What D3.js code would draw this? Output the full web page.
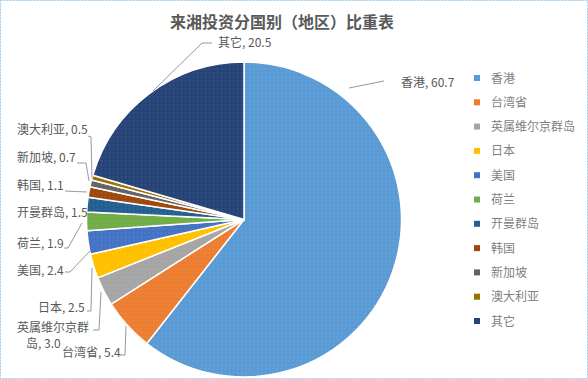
<!DOCTYPE html>
<html>
<head>
<meta charset="utf-8">
<script src="https://cdn.jsdelivr.net/npm/d3@7"></script>
<style>
  html, body { margin: 0; padding: 0; background: #fff; }
  text { font-family: "Noto Sans CJK SC", "Noto Sans", sans-serif; }
</style>
</head>
<body>
<div id="chart"></div>
<script>
const categories = ['香港', '台湾省', '英属维尔京群岛', '日本', '美国', '荷兰', '开曼群岛', '韩国', '新加坡', '澳大利亚', '其它'];
const values = [60.7, 5.4, 3.0, 2.5, 2.4, 1.9, 1.5, 1.1, 0.7, 0.5, 20.5];
const colors = ['#5b9bd5', '#ed7d31', '#a5a5a5', '#ffc000', '#4472c4', '#70ad47', '#255e91', '#9e480e', '#636363', '#997300', '#264478'];
const title = '来湘投资分国别（地区）比重表';

// where each data label sits and how its leader line runs (layout only)
const labelLayout = [
  { lines: ['香港, 60.7'], xs: [401], y: 87, leader: [[349, 88], [384, 81]] },
  { lines: ['台湾省, 5.4'], xs: [62], y: 357, leader: [[126, 326], [125, 355], [120, 355]] },
  { lines: ['英属维尔京群', '岛, 3.0'], xs: [17, 26], y: 332, leader: [[101, 292], [99, 330], [93, 330]] },
  { lines: ['日本, 2.5'], xs: [38], y: 312, leader: [[92, 268], [91, 311], [87, 311]] },
  { lines: ['美国, 2.4'], xs: [17], y: 275, leader: [[91, 250], [70, 272], [65, 272]] },
  { lines: ['荷兰, 1.9'], xs: [17], y: 248, leader: [[82, 223], [68, 248], [64, 248]] },
  { lines: ['开曼群岛, 1.5'], xs: [17], y: 217, leader: null },
  { lines: ['韩国, 1.1'], xs: [17], y: 190, leader: [[65, 191], [87, 192]] },
  { lines: ['新加坡, 0.7'], xs: [17], y: 162, leader: [[77, 163], [86, 163], [89, 181]] },
  { lines: ['澳大利亚, 0.5'], xs: [17], y: 134, leader: [[88, 136], [91, 137], [92, 178]] },
  { lines: ['其它, 20.5'], xs: [218], y: 47, leader: [[212, 43], [202, 43], [153, 91]] }
];

const width = 588, height = 379;
const cx = 244, cy = 219.5, radius = 157.5;

const svg = d3.select('#chart').append('svg')
  .attr('width', width)
  .attr('height', height);

// frame
svg.append('rect')
  .attr('x', 0.5).attr('y', 0.5)
  .attr('width', width - 1).attr('height', height - 1)
  .attr('fill', '#fff')
  .attr('stroke', '#9fc8ea')
  .attr('stroke-dasharray', '2,1');

// faint dot texture like the original image
const defs = svg.append('defs');
const pat = defs.append('pattern').attr('id', 'dots')
  .attr('width', 4).attr('height', 4).attr('patternUnits', 'userSpaceOnUse');
pat.append('rect').attr('x', 1).attr('y', 1).attr('width', 1).attr('height', 1)
  .attr('fill', '#fff').attr('opacity', 0.18);

svg.append('text')
  .attr('x', 282).attr('y', 28)
  .attr('text-anchor', 'middle')
  .attr('font-size', 16)
  .attr('font-weight', 600)
  .attr('fill', '#595959')
  .text(title);

const data = categories.map((c, i) => ({ name: c, value: values[i], color: colors[i], i }));

const pie = d3.pie().value(d => d.value).sort(null);
const arc = d3.arc().innerRadius(0).outerRadius(radius);
const arcs = pie(data);

const g = svg.append('g').attr('transform', `translate(${cx},${cy})`);

g.selectAll('path.slice').data(arcs).join('path')
  .attr('class', 'slice')
  .attr('d', arc)
  .attr('fill', d => d.data.color)
  .attr('stroke', '#fff')
  .attr('stroke-width', 1.5)
  .attr('stroke-linejoin', 'round');

g.selectAll('path.tex').data(arcs).join('path')
  .attr('class', 'tex')
  .attr('d', arc)
  .attr('fill', 'url(#dots)')
  .attr('pointer-events', 'none');

// leader lines + labels
const line = d3.line();
const lbl = svg.append('g');
arcs.forEach((a, i) => {
  const L = labelLayout[i];
  if (L.leader) {
    lbl.append('path')
      .attr('d', line(L.leader))
      .attr('fill', 'none')
      .attr('stroke', '#7f7f7f')
      .attr('stroke-width', 0.8);
  }
  const t = lbl.append('text')
    .attr('y', L.y)
    .attr('font-size', 12)
    .attr('fill', '#595959');
  L.lines.forEach((s, k) => {
    t.append('tspan').attr('x', L.xs[k]).attr('dy', k === 0 ? 0 : 16).text(s);
  });
});

// legend
const legendY = d3.scalePoint().domain(categories).range([78, 321]);
const leg = svg.append('g');
const item = leg.selectAll('g').data(data).join('g')
  .attr('transform', d => `translate(474,${legendY(d.name)})`);
item.append('rect')
  .attr('x', 0).attr('y', -3)
  .attr('width', 6).attr('height', 6)
  .attr('fill', d => d.color);
item.append('text')
  .attr('x', 17).attr('y', 4.5)
  .attr('font-size', 12)
  .attr('fill', '#7f7f7f')
  .text(d => d.name);
</script>
</body>
</html>
